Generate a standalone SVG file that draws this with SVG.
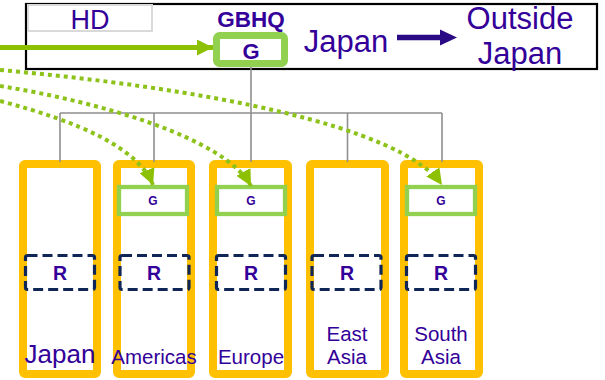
<svg xmlns="http://www.w3.org/2000/svg" width="605" height="380" viewBox="0 0 605 380">
  <style>
    text { font-family: "Liberation Sans", Arial, sans-serif; fill: #330099; text-anchor: middle; }
    .b { font-weight: bold; }
    .col { fill: #ffffff; stroke: #FFC000; stroke-width: 8; }
    .gbox { fill: #ffffff; stroke: #92D050; stroke-width: 4.3; }
    .rbox { fill: none; stroke: #0F2657; stroke-width: 3.2; stroke-dasharray: 10 5; }
    .tree { fill: none; stroke: #8F8F8F; stroke-width: 1.6; }
    .dot { fill: none; stroke: #8CC21A; stroke-width: 4; stroke-dasharray: 4 4; }
  </style>
  <defs>
    <marker id="greenHead" markerUnits="userSpaceOnUse" markerWidth="16" markerHeight="16" refX="16" refY="8" orient="auto" viewBox="0 0 16 16">
      <path d="M0,0 L16,8 L0,16 z" fill="#8CC000"/>
    </marker>
  </defs>

  <rect width="605" height="380" fill="#ffffff"/>

  <!-- Headquarters band -->
  <g id="hq">
    <rect x="26" y="4" width="571" height="65" fill="#ffffff" stroke="#000000" stroke-width="2.2"/>
  </g>
  <g id="hd">
    <rect x="28" y="5" width="124" height="26" fill="#ffffff" stroke="#D9D9D9" stroke-width="2"/>
    <text x="90" y="29" font-size="27">HD</text>
  </g>
  <g id="gbhq">
    <text x="251" y="27" font-size="22.5" class="b">GBHQ</text>
    <rect x="216.5" y="35.5" width="68" height="28" rx="3" fill="#ffffff" stroke="#92D050" stroke-width="7"/>
    <text x="251" y="59" font-size="22" class="b">G</text>
  </g>
  <g id="direction">
    <text x="346" y="52" font-size="31">Japan</text>
    <text x="520" y="29" font-size="31">Outside</text>
    <text x="520" y="64" font-size="31">Japan</text>
    <line x1="397" y1="37.5" x2="442" y2="37.5" stroke="#2B0B85" stroke-width="5.5"/>
    <path d="M440,29.5 L457,37.5 L440,45.5 z" fill="#2B0B85"/>
  </g>

  <!-- Regional columns -->
  <g id="col-japan">
    <rect class="col" x="23" y="164" width="74" height="210" rx="2"/>
    <rect class="rbox" x="25.5" y="255.5" width="69" height="34" rx="2"/>
    <text x="60" y="279.5" font-size="19.5" class="b">R</text>
    <text x="60" y="363" font-size="26">Japan</text>
  </g>
  <g id="col-americas">
    <rect class="col" x="117" y="164" width="74" height="210" rx="2"/>
    <rect class="gbox" x="119" y="187" width="68" height="27"/>
    <text x="153" y="204.5" font-size="12" class="b">G</text>
    <rect class="rbox" x="120" y="255.5" width="69" height="34" rx="2"/>
    <text x="154" y="279.5" font-size="19.5" class="b">R</text>
    <text x="154" y="364" font-size="20.5">Americas</text>
  </g>
  <g id="col-europe">
    <rect class="col" x="213" y="164" width="75" height="210" rx="2"/>
    <rect class="gbox" x="217" y="187" width="68" height="27"/>
    <text x="251" y="204.5" font-size="12" class="b">G</text>
    <rect class="rbox" x="216.5" y="255.5" width="69" height="34" rx="2"/>
    <text x="251" y="279.5" font-size="19.5" class="b">R</text>
    <text x="251" y="364" font-size="20.5">Europe</text>
  </g>
  <g id="col-east-asia">
    <rect class="col" x="310" y="164" width="75" height="210" rx="2"/>
    <rect class="rbox" x="312" y="255.5" width="69" height="34" rx="2"/>
    <text x="347" y="279.5" font-size="19.5" class="b">R</text>
    <text x="347" y="341" font-size="20.5">East</text>
    <text x="347" y="364" font-size="20.5">Asia</text>
  </g>
  <g id="col-south-asia">
    <rect class="col" x="404" y="164" width="75" height="210" rx="2"/>
    <rect class="gbox" x="407" y="187" width="68" height="27"/>
    <text x="441" y="204.5" font-size="12" class="b">G</text>
    <rect class="rbox" x="406.5" y="255.5" width="69" height="34" rx="2"/>
    <text x="441" y="279.5" font-size="19.5" class="b">R</text>
    <text x="441" y="341" font-size="20.5">South</text>
    <text x="441" y="364" font-size="20.5">Asia</text>
  </g>

  <!-- Connectors -->
  <g id="connectors">
    <path class="tree" d="M251,67 V113 M60,113 H442 M60,113 V162 M154,113 V162 M251,113 V162 M347.5,113 V162 M442,113 V162"/>
    <line x1="0" y1="47.5" x2="213" y2="47.5" stroke="#8CC000" stroke-width="5" marker-end="url(#greenHead)"/>
    <path class="dot" d="M0,101 C80,122 138,148 153,185" marker-end="url(#greenHead)"/>
    <path class="dot" d="M0,86 C100,102 225,138 251,186" marker-end="url(#greenHead)"/>
    <path class="dot" d="M0,70 C200,88 400,125 442,185" marker-end="url(#greenHead)"/>
  </g>
</svg>
